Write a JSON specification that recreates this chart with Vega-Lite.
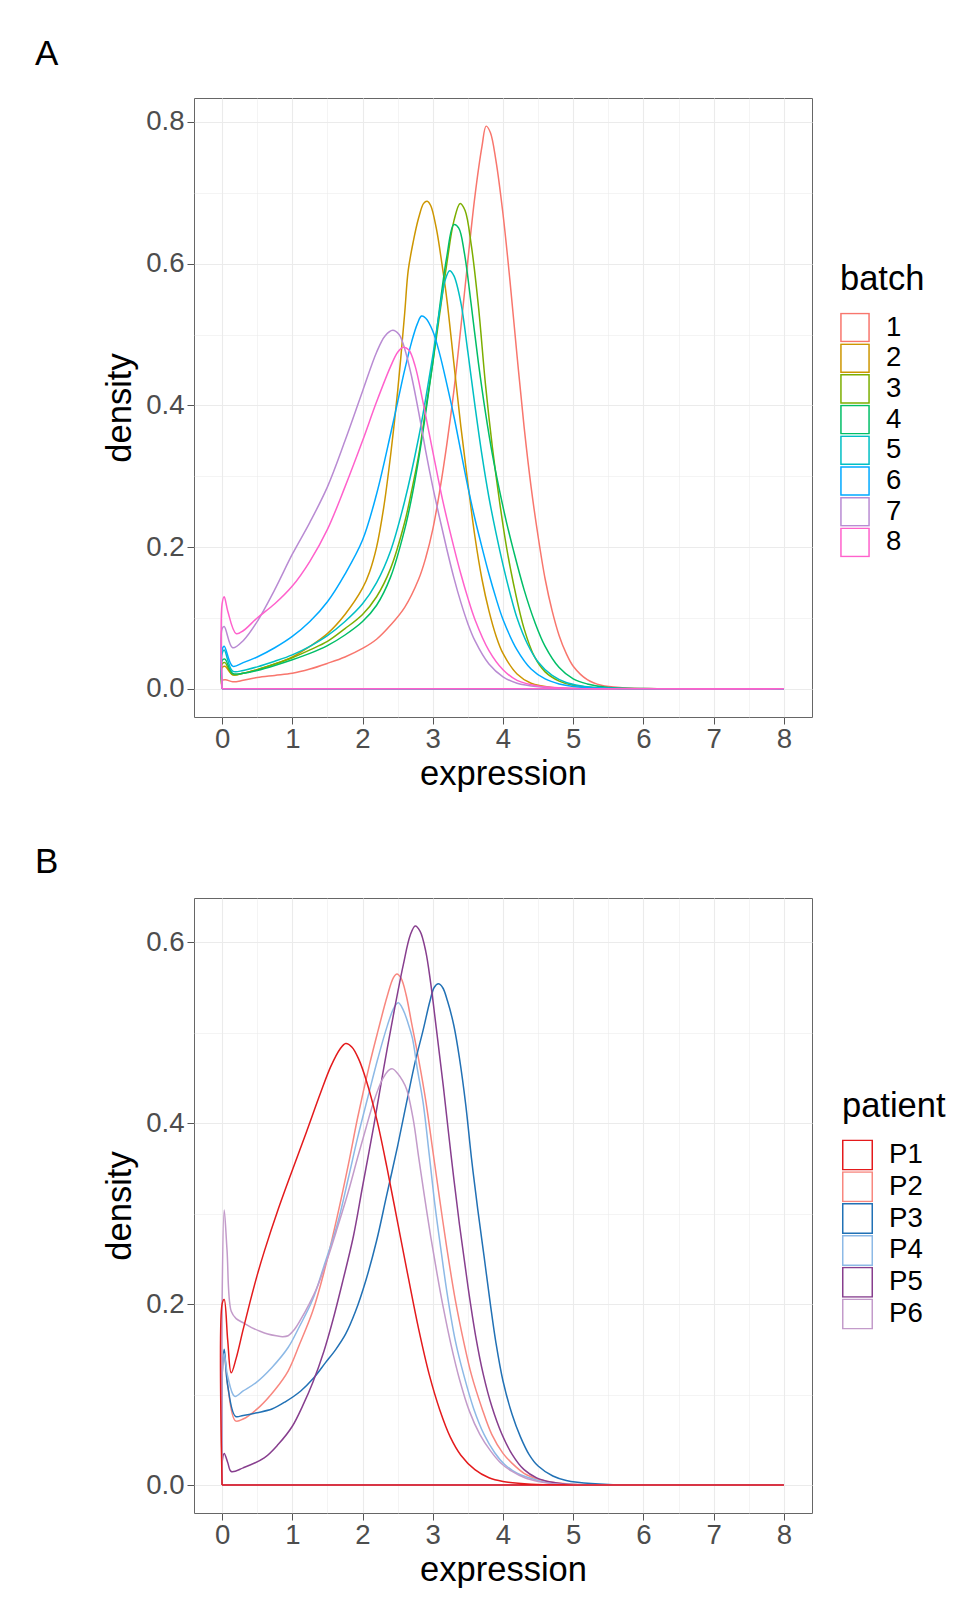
{
"$schema": "https://vega.github.io/schema/vega-lite/v6.json",
"background": "white",
"padding": {"left": 34, "top": 36, "right": 10, "bottom": 10},
"spacing": 52,
"datasets": {
"a": [
{"batch":"1","x":0,"y":0,"i":0},{"batch":"1","x":0,"y":0.012,"i":1},{"batch":"1","x":0.05,"y":0.013,"i":2},{"batch":"1","x":0.15,"y":0.01,"i":3},{"batch":"1","x":0.3,"y":0.012,"i":4},{"batch":"1","x":0.5,"y":0.016,"i":5},{"batch":"1","x":0.75,"y":0.019,"i":6},{"batch":"1","x":1.0,"y":0.022,"i":7},{"batch":"1","x":1.25,"y":0.028,"i":8},{"batch":"1","x":1.5,"y":0.036,"i":9},{"batch":"1","x":1.75,"y":0.045,"i":10},{"batch":"1","x":2.0,"y":0.057,"i":11},{"batch":"1","x":2.2,"y":0.07,"i":12},{"batch":"1","x":2.4,"y":0.09,"i":13},{"batch":"1","x":2.6,"y":0.115,"i":14},{"batch":"1","x":2.8,"y":0.155,"i":15},{"batch":"1","x":2.9,"y":0.185,"i":16},{"batch":"1","x":3.0,"y":0.225,"i":17},{"batch":"1","x":3.1,"y":0.28,"i":18},{"batch":"1","x":3.2,"y":0.345,"i":19},{"batch":"1","x":3.3,"y":0.42,"i":20},{"batch":"1","x":3.4,"y":0.51,"i":21},{"batch":"1","x":3.5,"y":0.605,"i":22},{"batch":"1","x":3.6,"y":0.695,"i":23},{"batch":"1","x":3.7,"y":0.765,"i":24},{"batch":"1","x":3.76,"y":0.794,"i":25},{"batch":"1","x":3.82,"y":0.785,"i":26},{"batch":"1","x":3.9,"y":0.745,"i":27},{"batch":"1","x":4.0,"y":0.67,"i":28},{"batch":"1","x":4.1,"y":0.575,"i":29},{"batch":"1","x":4.2,"y":0.47,"i":30},{"batch":"1","x":4.3,"y":0.37,"i":31},{"batch":"1","x":4.4,"y":0.285,"i":32},{"batch":"1","x":4.5,"y":0.215,"i":33},{"batch":"1","x":4.6,"y":0.155,"i":34},{"batch":"1","x":4.7,"y":0.11,"i":35},{"batch":"1","x":4.8,"y":0.075,"i":36},{"batch":"1","x":4.9,"y":0.05,"i":37},{"batch":"1","x":5.0,"y":0.032,"i":38},{"batch":"1","x":5.2,"y":0.013,"i":39},{"batch":"1","x":5.4,"y":0.005,"i":40},{"batch":"1","x":5.7,"y":0.0015,"i":41},{"batch":"1","x":6.2,"y":0.0003,"i":42},{"batch":"1","x":7,"y":0,"i":43},{"batch":"1","x":8,"y":0,"i":44},{"batch":"1","x":0,"y":0,"i":45},

{"batch":"2","x":0,"y":0,"i":0},{"batch":"2","x":0,"y":0.03,"i":1},{"batch":"2","x":0.04,"y":0.032,"i":2},{"batch":"2","x":0.15,"y":0.02,"i":3},{"batch":"2","x":0.3,"y":0.022,"i":4},{"batch":"2","x":0.5,"y":0.027,"i":5},{"batch":"2","x":0.75,"y":0.035,"i":6},{"batch":"2","x":1.0,"y":0.045,"i":7},{"batch":"2","x":1.25,"y":0.06,"i":8},{"batch":"2","x":1.5,"y":0.078,"i":9},{"batch":"2","x":1.75,"y":0.105,"i":10},{"batch":"2","x":2.0,"y":0.142,"i":11},{"batch":"2","x":2.1,"y":0.165,"i":12},{"batch":"2","x":2.2,"y":0.2,"i":13},{"batch":"2","x":2.3,"y":0.255,"i":14},{"batch":"2","x":2.4,"y":0.33,"i":15},{"batch":"2","x":2.5,"y":0.42,"i":16},{"batch":"2","x":2.6,"y":0.53,"i":17},{"batch":"2","x":2.65,"y":0.59,"i":18},{"batch":"2","x":2.72,"y":0.63,"i":19},{"batch":"2","x":2.8,"y":0.665,"i":20},{"batch":"2","x":2.87,"y":0.685,"i":21},{"batch":"2","x":2.92,"y":0.688,"i":22},{"batch":"2","x":2.97,"y":0.682,"i":23},{"batch":"2","x":3.05,"y":0.65,"i":24},{"batch":"2","x":3.13,"y":0.6,"i":25},{"batch":"2","x":3.2,"y":0.55,"i":26},{"batch":"2","x":3.3,"y":0.46,"i":27},{"batch":"2","x":3.4,"y":0.37,"i":28},{"batch":"2","x":3.5,"y":0.29,"i":29},{"batch":"2","x":3.6,"y":0.215,"i":30},{"batch":"2","x":3.7,"y":0.155,"i":31},{"batch":"2","x":3.8,"y":0.11,"i":32},{"batch":"2","x":3.9,"y":0.075,"i":33},{"batch":"2","x":4.0,"y":0.05,"i":34},{"batch":"2","x":4.2,"y":0.021,"i":35},{"batch":"2","x":4.4,"y":0.008,"i":36},{"batch":"2","x":4.7,"y":0.002,"i":37},{"batch":"2","x":5.2,"y":0.0003,"i":38},{"batch":"2","x":6,"y":0,"i":39},{"batch":"2","x":8,"y":0,"i":40},{"batch":"2","x":0,"y":0,"i":41},

{"batch":"3","x":0,"y":0,"i":0},{"batch":"3","x":0,"y":0.035,"i":1},{"batch":"3","x":0.04,"y":0.037,"i":2},{"batch":"3","x":0.15,"y":0.02,"i":3},{"batch":"3","x":0.3,"y":0.022,"i":4},{"batch":"3","x":0.5,"y":0.027,"i":5},{"batch":"3","x":0.75,"y":0.035,"i":6},{"batch":"3","x":1.0,"y":0.044,"i":7},{"batch":"3","x":1.25,"y":0.055,"i":8},{"batch":"3","x":1.5,"y":0.067,"i":9},{"batch":"3","x":1.75,"y":0.085,"i":10},{"batch":"3","x":2.0,"y":0.105,"i":11},{"batch":"3","x":2.2,"y":0.13,"i":12},{"batch":"3","x":2.4,"y":0.17,"i":13},{"batch":"3","x":2.6,"y":0.235,"i":14},{"batch":"3","x":2.7,"y":0.28,"i":15},{"batch":"3","x":2.8,"y":0.33,"i":16},{"batch":"3","x":2.9,"y":0.395,"i":17},{"batch":"3","x":3.0,"y":0.46,"i":18},{"batch":"3","x":3.1,"y":0.53,"i":19},{"batch":"3","x":3.2,"y":0.6,"i":20},{"batch":"3","x":3.3,"y":0.66,"i":21},{"batch":"3","x":3.39,"y":0.685,"i":22},{"batch":"3","x":3.46,"y":0.675,"i":23},{"batch":"3","x":3.55,"y":0.625,"i":24},{"batch":"3","x":3.65,"y":0.54,"i":25},{"batch":"3","x":3.75,"y":0.43,"i":26},{"batch":"3","x":3.85,"y":0.34,"i":27},{"batch":"3","x":3.95,"y":0.265,"i":28},{"batch":"3","x":4.05,"y":0.2,"i":29},{"batch":"3","x":4.15,"y":0.148,"i":30},{"batch":"3","x":4.3,"y":0.085,"i":31},{"batch":"3","x":4.45,"y":0.045,"i":32},{"batch":"3","x":4.6,"y":0.024,"i":33},{"batch":"3","x":4.8,"y":0.011,"i":34},{"batch":"3","x":5.0,"y":0.005,"i":35},{"batch":"3","x":5.4,"y":0.001,"i":36},{"batch":"3","x":6,"y":0,"i":37},{"batch":"3","x":8,"y":0,"i":38},{"batch":"3","x":0,"y":0,"i":39},

{"batch":"4","x":0,"y":0,"i":0},{"batch":"4","x":0,"y":0.04,"i":1},{"batch":"4","x":0.04,"y":0.042,"i":2},{"batch":"4","x":0.15,"y":0.022,"i":3},{"batch":"4","x":0.3,"y":0.022,"i":4},{"batch":"4","x":0.5,"y":0.026,"i":5},{"batch":"4","x":0.75,"y":0.033,"i":6},{"batch":"4","x":1.0,"y":0.041,"i":7},{"batch":"4","x":1.25,"y":0.05,"i":8},{"batch":"4","x":1.5,"y":0.061,"i":9},{"batch":"4","x":1.75,"y":0.076,"i":10},{"batch":"4","x":2.0,"y":0.095,"i":11},{"batch":"4","x":2.2,"y":0.118,"i":12},{"batch":"4","x":2.4,"y":0.158,"i":13},{"batch":"4","x":2.6,"y":0.225,"i":14},{"batch":"4","x":2.7,"y":0.27,"i":15},{"batch":"4","x":2.8,"y":0.325,"i":16},{"batch":"4","x":2.9,"y":0.39,"i":17},{"batch":"4","x":3.0,"y":0.46,"i":18},{"batch":"4","x":3.1,"y":0.54,"i":19},{"batch":"4","x":3.2,"y":0.61,"i":20},{"batch":"4","x":3.3,"y":0.655,"i":21},{"batch":"4","x":3.37,"y":0.65,"i":22},{"batch":"4","x":3.45,"y":0.615,"i":23},{"batch":"4","x":3.55,"y":0.54,"i":24},{"batch":"4","x":3.65,"y":0.46,"i":25},{"batch":"4","x":3.75,"y":0.39,"i":26},{"batch":"4","x":3.85,"y":0.33,"i":27},{"batch":"4","x":3.95,"y":0.28,"i":28},{"batch":"4","x":4.05,"y":0.235,"i":29},{"batch":"4","x":4.15,"y":0.195,"i":30},{"batch":"4","x":4.3,"y":0.14,"i":31},{"batch":"4","x":4.45,"y":0.095,"i":32},{"batch":"4","x":4.6,"y":0.06,"i":33},{"batch":"4","x":4.8,"y":0.03,"i":34},{"batch":"4","x":5.0,"y":0.014,"i":35},{"batch":"4","x":5.2,"y":0.007,"i":36},{"batch":"4","x":5.5,"y":0.002,"i":37},{"batch":"4","x":6,"y":0.0004,"i":38},{"batch":"4","x":7,"y":0,"i":39},{"batch":"4","x":8,"y":0,"i":40},{"batch":"4","x":0,"y":0,"i":41},

{"batch":"5","x":0,"y":0,"i":0},{"batch":"5","x":0,"y":0.05,"i":1},{"batch":"5","x":0.03,"y":0.055,"i":2},{"batch":"5","x":0.15,"y":0.025,"i":3},{"batch":"5","x":0.3,"y":0.026,"i":4},{"batch":"5","x":0.5,"y":0.031,"i":5},{"batch":"5","x":0.75,"y":0.039,"i":6},{"batch":"5","x":1.0,"y":0.048,"i":7},{"batch":"5","x":1.25,"y":0.06,"i":8},{"batch":"5","x":1.5,"y":0.075,"i":9},{"batch":"5","x":1.75,"y":0.095,"i":10},{"batch":"5","x":2.0,"y":0.12,"i":11},{"batch":"5","x":2.2,"y":0.15,"i":12},{"batch":"5","x":2.4,"y":0.195,"i":13},{"batch":"5","x":2.6,"y":0.265,"i":14},{"batch":"5","x":2.8,"y":0.355,"i":15},{"batch":"5","x":2.9,"y":0.41,"i":16},{"batch":"5","x":3.0,"y":0.47,"i":17},{"batch":"5","x":3.1,"y":0.535,"i":18},{"batch":"5","x":3.18,"y":0.578,"i":19},{"batch":"5","x":3.24,"y":0.59,"i":20},{"batch":"5","x":3.3,"y":0.583,"i":21},{"batch":"5","x":3.4,"y":0.545,"i":22},{"batch":"5","x":3.5,"y":0.475,"i":23},{"batch":"5","x":3.6,"y":0.4,"i":24},{"batch":"5","x":3.7,"y":0.33,"i":25},{"batch":"5","x":3.8,"y":0.27,"i":26},{"batch":"5","x":3.9,"y":0.22,"i":27},{"batch":"5","x":4.0,"y":0.175,"i":28},{"batch":"5","x":4.1,"y":0.135,"i":29},{"batch":"5","x":4.2,"y":0.1,"i":30},{"batch":"5","x":4.35,"y":0.063,"i":31},{"batch":"5","x":4.5,"y":0.038,"i":32},{"batch":"5","x":4.7,"y":0.019,"i":33},{"batch":"5","x":4.9,"y":0.009,"i":34},{"batch":"5","x":5.1,"y":0.0045,"i":35},{"batch":"5","x":5.4,"y":0.0015,"i":36},{"batch":"5","x":6,"y":0.0002,"i":37},{"batch":"5","x":7,"y":0,"i":38},{"batch":"5","x":8,"y":0,"i":39},{"batch":"5","x":0,"y":0,"i":40},

{"batch":"6","x":0,"y":0,"i":0},{"batch":"6","x":0,"y":0.055,"i":1},{"batch":"6","x":0.03,"y":0.06,"i":2},{"batch":"6","x":0.15,"y":0.032,"i":3},{"batch":"6","x":0.3,"y":0.037,"i":4},{"batch":"6","x":0.5,"y":0.045,"i":5},{"batch":"6","x":0.75,"y":0.058,"i":6},{"batch":"6","x":1.0,"y":0.074,"i":7},{"batch":"6","x":1.25,"y":0.095,"i":8},{"batch":"6","x":1.5,"y":0.123,"i":9},{"batch":"6","x":1.75,"y":0.162,"i":10},{"batch":"6","x":2.0,"y":0.21,"i":11},{"batch":"6","x":2.2,"y":0.275,"i":12},{"batch":"6","x":2.4,"y":0.36,"i":13},{"batch":"6","x":2.5,"y":0.405,"i":14},{"batch":"6","x":2.6,"y":0.45,"i":15},{"batch":"6","x":2.7,"y":0.49,"i":16},{"batch":"6","x":2.78,"y":0.515,"i":17},{"batch":"6","x":2.84,"y":0.526,"i":18},{"batch":"6","x":2.9,"y":0.523,"i":19},{"batch":"6","x":3.0,"y":0.505,"i":20},{"batch":"6","x":3.1,"y":0.472,"i":21},{"batch":"6","x":3.2,"y":0.43,"i":22},{"batch":"6","x":3.3,"y":0.385,"i":23},{"batch":"6","x":3.4,"y":0.335,"i":24},{"batch":"6","x":3.5,"y":0.285,"i":25},{"batch":"6","x":3.6,"y":0.24,"i":26},{"batch":"6","x":3.7,"y":0.2,"i":27},{"batch":"6","x":3.8,"y":0.162,"i":28},{"batch":"6","x":3.9,"y":0.128,"i":29},{"batch":"6","x":4.0,"y":0.098,"i":30},{"batch":"6","x":4.2,"y":0.055,"i":31},{"batch":"6","x":4.4,"y":0.028,"i":32},{"batch":"6","x":4.6,"y":0.014,"i":33},{"batch":"6","x":4.8,"y":0.007,"i":34},{"batch":"6","x":5.0,"y":0.0035,"i":35},{"batch":"6","x":5.4,"y":0.001,"i":36},{"batch":"6","x":6,"y":0.0002,"i":37},{"batch":"6","x":7,"y":0,"i":38},{"batch":"6","x":8,"y":0,"i":39},{"batch":"6","x":0,"y":0,"i":40},

{"batch":"7","x":0,"y":0,"i":0},{"batch":"7","x":0,"y":0.085,"i":1},{"batch":"7","x":0.03,"y":0.088,"i":2},{"batch":"7","x":0.15,"y":0.058,"i":3},{"batch":"7","x":0.3,"y":0.068,"i":4},{"batch":"7","x":0.5,"y":0.095,"i":5},{"batch":"7","x":0.75,"y":0.14,"i":6},{"batch":"7","x":1.0,"y":0.19,"i":7},{"batch":"7","x":1.25,"y":0.235,"i":8},{"batch":"7","x":1.5,"y":0.285,"i":9},{"batch":"7","x":1.75,"y":0.35,"i":10},{"batch":"7","x":2.0,"y":0.42,"i":11},{"batch":"7","x":2.2,"y":0.475,"i":12},{"batch":"7","x":2.32,"y":0.498,"i":13},{"batch":"7","x":2.43,"y":0.506,"i":14},{"batch":"7","x":2.52,"y":0.5,"i":15},{"batch":"7","x":2.6,"y":0.48,"i":16},{"batch":"7","x":2.7,"y":0.44,"i":17},{"batch":"7","x":2.8,"y":0.39,"i":18},{"batch":"7","x":2.9,"y":0.335,"i":19},{"batch":"7","x":3.0,"y":0.285,"i":20},{"batch":"7","x":3.1,"y":0.24,"i":21},{"batch":"7","x":3.2,"y":0.197,"i":22},{"batch":"7","x":3.3,"y":0.157,"i":23},{"batch":"7","x":3.4,"y":0.122,"i":24},{"batch":"7","x":3.5,"y":0.092,"i":25},{"batch":"7","x":3.6,"y":0.068,"i":26},{"batch":"7","x":3.8,"y":0.035,"i":27},{"batch":"7","x":4.0,"y":0.017,"i":28},{"batch":"7","x":4.2,"y":0.008,"i":29},{"batch":"7","x":4.5,"y":0.003,"i":30},{"batch":"7","x":5,"y":0.0005,"i":31},{"batch":"7","x":6,"y":0,"i":32},{"batch":"7","x":8,"y":0,"i":33},{"batch":"7","x":0,"y":0,"i":34},

{"batch":"8","x":0,"y":0,"i":0},{"batch":"8","x":0,"y":0.12,"i":1},{"batch":"8","x":0.03,"y":0.13,"i":2},{"batch":"8","x":0.08,"y":0.11,"i":3},{"batch":"8","x":0.2,"y":0.078,"i":4},{"batch":"8","x":0.3,"y":0.082,"i":5},{"batch":"8","x":0.5,"y":0.1,"i":6},{"batch":"8","x":0.75,"y":0.12,"i":7},{"batch":"8","x":1.0,"y":0.145,"i":8},{"batch":"8","x":1.25,"y":0.18,"i":9},{"batch":"8","x":1.5,"y":0.225,"i":10},{"batch":"8","x":1.75,"y":0.285,"i":11},{"batch":"8","x":2.0,"y":0.35,"i":12},{"batch":"8","x":2.2,"y":0.405,"i":13},{"batch":"8","x":2.4,"y":0.455,"i":14},{"batch":"8","x":2.5,"y":0.475,"i":15},{"batch":"8","x":2.58,"y":0.482,"i":16},{"batch":"8","x":2.66,"y":0.478,"i":17},{"batch":"8","x":2.75,"y":0.455,"i":18},{"batch":"8","x":2.85,"y":0.41,"i":19},{"batch":"8","x":2.95,"y":0.36,"i":20},{"batch":"8","x":3.05,"y":0.31,"i":21},{"batch":"8","x":3.15,"y":0.262,"i":22},{"batch":"8","x":3.3,"y":0.2,"i":23},{"batch":"8","x":3.4,"y":0.162,"i":24},{"batch":"8","x":3.5,"y":0.128,"i":25},{"batch":"8","x":3.6,"y":0.098,"i":26},{"batch":"8","x":3.8,"y":0.054,"i":27},{"batch":"8","x":4.0,"y":0.027,"i":28},{"batch":"8","x":4.2,"y":0.012,"i":29},{"batch":"8","x":4.5,"y":0.004,"i":30},{"batch":"8","x":5,"y":0.0006,"i":31},{"batch":"8","x":6,"y":0,"i":32},{"batch":"8","x":8,"y":0,"i":33},{"batch":"8","x":0,"y":0,"i":34}
],
"b": [
{"patient":"P2","x":0,"y":0,"i":0},{"patient":"P2","x":0,"y":0.12,"i":1},{"patient":"P2","x":0.03,"y":0.145,"i":2},{"patient":"P2","x":0.08,"y":0.11,"i":3},{"patient":"P2","x":0.19,"y":0.071,"i":4},{"patient":"P2","x":0.3,"y":0.073,"i":5},{"patient":"P2","x":0.54,"y":0.087,"i":6},{"patient":"P2","x":0.75,"y":0.105,"i":7},{"patient":"P2","x":0.94,"y":0.126,"i":8},{"patient":"P2","x":1.1,"y":0.155,"i":9},{"patient":"P2","x":1.29,"y":0.192,"i":10},{"patient":"P2","x":1.45,"y":0.235,"i":11},{"patient":"P2","x":1.64,"y":0.297,"i":12},{"patient":"P2","x":1.8,"y":0.355,"i":13},{"patient":"P2","x":1.93,"y":0.406,"i":14},{"patient":"P2","x":2.1,"y":0.465,"i":15},{"patient":"P2","x":2.22,"y":0.502,"i":16},{"patient":"P2","x":2.35,"y":0.54,"i":17},{"patient":"P2","x":2.44,"y":0.561,"i":18},{"patient":"P2","x":2.49,"y":0.565,"i":19},{"patient":"P2","x":2.55,"y":0.56,"i":20},{"patient":"P2","x":2.62,"y":0.542,"i":21},{"patient":"P2","x":2.7,"y":0.51,"i":22},{"patient":"P2","x":2.8,"y":0.47,"i":23},{"patient":"P2","x":2.9,"y":0.425,"i":24},{"patient":"P2","x":3.0,"y":0.37,"i":25},{"patient":"P2","x":3.1,"y":0.315,"i":26},{"patient":"P2","x":3.2,"y":0.262,"i":27},{"patient":"P2","x":3.32,"y":0.205,"i":28},{"patient":"P2","x":3.45,"y":0.155,"i":29},{"patient":"P2","x":3.55,"y":0.122,"i":30},{"patient":"P2","x":3.7,"y":0.085,"i":31},{"patient":"P2","x":3.84,"y":0.056,"i":32},{"patient":"P2","x":4.0,"y":0.035,"i":33},{"patient":"P2","x":4.13,"y":0.024,"i":34},{"patient":"P2","x":4.3,"y":0.013,"i":35},{"patient":"P2","x":4.48,"y":0.007,"i":36},{"patient":"P2","x":4.7,"y":0.003,"i":37},{"patient":"P2","x":5,"y":0.001,"i":38},{"patient":"P2","x":5.5,"y":0.0002,"i":39},{"patient":"P2","x":6,"y":0,"i":40},{"patient":"P2","x":8,"y":0,"i":41},{"patient":"P2","x":0,"y":0,"i":42},

{"patient":"P3","x":0,"y":0,"i":0},{"patient":"P3","x":0,"y":0.12,"i":1},{"patient":"P3","x":0.03,"y":0.15,"i":2},{"patient":"P3","x":0.08,"y":0.11,"i":3},{"patient":"P3","x":0.19,"y":0.076,"i":4},{"patient":"P3","x":0.3,"y":0.077,"i":5},{"patient":"P3","x":0.5,"y":0.08,"i":6},{"patient":"P3","x":0.71,"y":0.084,"i":7},{"patient":"P3","x":0.9,"y":0.092,"i":8},{"patient":"P3","x":1.12,"y":0.104,"i":9},{"patient":"P3","x":1.3,"y":0.118,"i":10},{"patient":"P3","x":1.47,"y":0.135,"i":11},{"patient":"P3","x":1.62,"y":0.15,"i":12},{"patient":"P3","x":1.76,"y":0.167,"i":13},{"patient":"P3","x":1.9,"y":0.192,"i":14},{"patient":"P3","x":2.05,"y":0.227,"i":15},{"patient":"P3","x":2.2,"y":0.27,"i":16},{"patient":"P3","x":2.34,"y":0.319,"i":17},{"patient":"P3","x":2.5,"y":0.375,"i":18},{"patient":"P3","x":2.63,"y":0.424,"i":19},{"patient":"P3","x":2.75,"y":0.468,"i":20},{"patient":"P3","x":2.86,"y":0.502,"i":21},{"patient":"P3","x":2.96,"y":0.535,"i":22},{"patient":"P3","x":3.02,"y":0.55,"i":23},{"patient":"P3","x":3.08,"y":0.554,"i":24},{"patient":"P3","x":3.14,"y":0.55,"i":25},{"patient":"P3","x":3.21,"y":0.535,"i":26},{"patient":"P3","x":3.3,"y":0.508,"i":27},{"patient":"P3","x":3.38,"y":0.472,"i":28},{"patient":"P3","x":3.47,"y":0.42,"i":29},{"patient":"P3","x":3.55,"y":0.362,"i":30},{"patient":"P3","x":3.64,"y":0.305,"i":31},{"patient":"P3","x":3.73,"y":0.253,"i":32},{"patient":"P3","x":3.82,"y":0.2,"i":33},{"patient":"P3","x":3.9,"y":0.157,"i":34},{"patient":"P3","x":4.0,"y":0.115,"i":35},{"patient":"P3","x":4.13,"y":0.078,"i":36},{"patient":"P3","x":4.25,"y":0.053,"i":37},{"patient":"P3","x":4.37,"y":0.034,"i":38},{"patient":"P3","x":4.5,"y":0.021,"i":39},{"patient":"P3","x":4.71,"y":0.01,"i":40},{"patient":"P3","x":4.9,"y":0.005,"i":41},{"patient":"P3","x":5.06,"y":0.003,"i":42},{"patient":"P3","x":5.5,"y":0.0006,"i":43},{"patient":"P3","x":6,"y":0.0001,"i":44},{"patient":"P3","x":7,"y":0,"i":45},{"patient":"P3","x":8,"y":0,"i":46},{"patient":"P3","x":0,"y":0,"i":47},

{"patient":"P4","x":0,"y":0,"i":0},{"patient":"P4","x":0,"y":0.12,"i":1},{"patient":"P4","x":0.03,"y":0.145,"i":2},{"patient":"P4","x":0.08,"y":0.12,"i":3},{"patient":"P4","x":0.18,"y":0.098,"i":4},{"patient":"P4","x":0.3,"y":0.104,"i":5},{"patient":"P4","x":0.48,"y":0.113,"i":6},{"patient":"P4","x":0.71,"y":0.13,"i":7},{"patient":"P4","x":0.94,"y":0.152,"i":8},{"patient":"P4","x":1.1,"y":0.175,"i":9},{"patient":"P4","x":1.29,"y":0.205,"i":10},{"patient":"P4","x":1.45,"y":0.242,"i":11},{"patient":"P4","x":1.64,"y":0.288,"i":12},{"patient":"P4","x":1.8,"y":0.34,"i":13},{"patient":"P4","x":1.93,"y":0.384,"i":14},{"patient":"P4","x":2.08,"y":0.43,"i":15},{"patient":"P4","x":2.22,"y":0.472,"i":16},{"patient":"P4","x":2.35,"y":0.507,"i":17},{"patient":"P4","x":2.45,"y":0.528,"i":18},{"patient":"P4","x":2.51,"y":0.533,"i":19},{"patient":"P4","x":2.58,"y":0.525,"i":20},{"patient":"P4","x":2.65,"y":0.51,"i":21},{"patient":"P4","x":2.71,"y":0.494,"i":22},{"patient":"P4","x":2.78,"y":0.46,"i":23},{"patient":"P4","x":2.86,"y":0.424,"i":24},{"patient":"P4","x":2.95,"y":0.365,"i":25},{"patient":"P4","x":3.03,"y":0.31,"i":26},{"patient":"P4","x":3.12,"y":0.258,"i":27},{"patient":"P4","x":3.21,"y":0.209,"i":28},{"patient":"P4","x":3.32,"y":0.16,"i":29},{"patient":"P4","x":3.44,"y":0.122,"i":30},{"patient":"P4","x":3.58,"y":0.085,"i":31},{"patient":"P4","x":3.73,"y":0.056,"i":32},{"patient":"P4","x":3.88,"y":0.036,"i":33},{"patient":"P4","x":4.02,"y":0.023,"i":34},{"patient":"P4","x":4.2,"y":0.013,"i":35},{"patient":"P4","x":4.37,"y":0.008,"i":36},{"patient":"P4","x":4.55,"y":0.004,"i":37},{"patient":"P4","x":4.77,"y":0.0015,"i":38},{"patient":"P4","x":5.2,"y":0.0003,"i":39},{"patient":"P4","x":6,"y":0,"i":40},{"patient":"P4","x":8,"y":0,"i":41},{"patient":"P4","x":0,"y":0,"i":42},

{"patient":"P5","x":0,"y":0,"i":0},{"patient":"P5","x":0,"y":0.025,"i":1},{"patient":"P5","x":0.03,"y":0.035,"i":2},{"patient":"P5","x":0.08,"y":0.025,"i":3},{"patient":"P5","x":0.13,"y":0.015,"i":4},{"patient":"P5","x":0.3,"y":0.019,"i":5},{"patient":"P5","x":0.6,"y":0.03,"i":6},{"patient":"P5","x":0.8,"y":0.045,"i":7},{"patient":"P5","x":1.0,"y":0.065,"i":8},{"patient":"P5","x":1.15,"y":0.088,"i":9},{"patient":"P5","x":1.29,"y":0.113,"i":10},{"patient":"P5","x":1.45,"y":0.148,"i":11},{"patient":"P5","x":1.58,"y":0.183,"i":12},{"patient":"P5","x":1.72,"y":0.226,"i":13},{"patient":"P5","x":1.87,"y":0.275,"i":14},{"patient":"P5","x":2.0,"y":0.33,"i":15},{"patient":"P5","x":2.16,"y":0.397,"i":16},{"patient":"P5","x":2.3,"y":0.46,"i":17},{"patient":"P5","x":2.45,"y":0.524,"i":18},{"patient":"P5","x":2.58,"y":0.575,"i":19},{"patient":"P5","x":2.68,"y":0.608,"i":20},{"patient":"P5","x":2.75,"y":0.618,"i":21},{"patient":"P5","x":2.82,"y":0.612,"i":22},{"patient":"P5","x":2.9,"y":0.59,"i":23},{"patient":"P5","x":2.97,"y":0.555,"i":24},{"patient":"P5","x":3.05,"y":0.505,"i":25},{"patient":"P5","x":3.15,"y":0.441,"i":26},{"patient":"P5","x":3.26,"y":0.365,"i":27},{"patient":"P5","x":3.38,"y":0.288,"i":28},{"patient":"P5","x":3.5,"y":0.22,"i":29},{"patient":"P5","x":3.61,"y":0.165,"i":30},{"patient":"P5","x":3.72,"y":0.122,"i":31},{"patient":"P5","x":3.84,"y":0.087,"i":32},{"patient":"P5","x":3.98,"y":0.057,"i":33},{"patient":"P5","x":4.13,"y":0.034,"i":34},{"patient":"P5","x":4.3,"y":0.017,"i":35},{"patient":"P5","x":4.48,"y":0.008,"i":36},{"patient":"P5","x":4.7,"y":0.003,"i":37},{"patient":"P5","x":4.9,"y":0.001,"i":38},{"patient":"P5","x":5.5,"y":0.0002,"i":39},{"patient":"P5","x":6,"y":0,"i":40},{"patient":"P5","x":8,"y":0,"i":41},{"patient":"P5","x":0,"y":0,"i":42},

{"patient":"P6","x":0,"y":0,"i":0},{"patient":"P6","x":0,"y":0.2,"i":1},{"patient":"P6","x":0.03,"y":0.304,"i":2},{"patient":"P6","x":0.07,"y":0.26,"i":3},{"patient":"P6","x":0.13,"y":0.192,"i":4},{"patient":"P6","x":0.2,"y":0.184,"i":5},{"patient":"P6","x":0.31,"y":0.179,"i":6},{"patient":"P6","x":0.42,"y":0.174,"i":7},{"patient":"P6","x":0.54,"y":0.17,"i":8},{"patient":"P6","x":0.65,"y":0.167,"i":9},{"patient":"P6","x":0.77,"y":0.165,"i":10},{"patient":"P6","x":0.86,"y":0.164,"i":11},{"patient":"P6","x":0.94,"y":0.165,"i":12},{"patient":"P6","x":1.03,"y":0.172,"i":13},{"patient":"P6","x":1.12,"y":0.183,"i":14},{"patient":"P6","x":1.24,"y":0.2,"i":15},{"patient":"P6","x":1.35,"y":0.218,"i":16},{"patient":"P6","x":1.5,"y":0.25,"i":17},{"patient":"P6","x":1.64,"y":0.284,"i":18},{"patient":"P6","x":1.8,"y":0.325,"i":19},{"patient":"P6","x":1.93,"y":0.362,"i":20},{"patient":"P6","x":2.05,"y":0.395,"i":21},{"patient":"P6","x":2.16,"y":0.424,"i":22},{"patient":"P6","x":2.28,"y":0.448,"i":23},{"patient":"P6","x":2.38,"y":0.459,"i":24},{"patient":"P6","x":2.43,"y":0.46,"i":25},{"patient":"P6","x":2.5,"y":0.455,"i":26},{"patient":"P6","x":2.57,"y":0.447,"i":27},{"patient":"P6","x":2.63,"y":0.437,"i":28},{"patient":"P6","x":2.72,"y":0.405,"i":29},{"patient":"P6","x":2.8,"y":0.362,"i":30},{"patient":"P6","x":2.88,"y":0.32,"i":31},{"patient":"P6","x":2.97,"y":0.275,"i":32},{"patient":"P6","x":3.06,"y":0.234,"i":33},{"patient":"P6","x":3.15,"y":0.196,"i":34},{"patient":"P6","x":3.26,"y":0.155,"i":35},{"patient":"P6","x":3.38,"y":0.117,"i":36},{"patient":"P6","x":3.52,"y":0.082,"i":37},{"patient":"P6","x":3.67,"y":0.056,"i":38},{"patient":"P6","x":3.82,"y":0.038,"i":39},{"patient":"P6","x":3.96,"y":0.025,"i":40},{"patient":"P6","x":4.13,"y":0.015,"i":41},{"patient":"P6","x":4.31,"y":0.008,"i":42},{"patient":"P6","x":4.5,"y":0.004,"i":43},{"patient":"P6","x":4.71,"y":0.0015,"i":44},{"patient":"P6","x":5.2,"y":0.0002,"i":45},{"patient":"P6","x":6,"y":0,"i":46},{"patient":"P6","x":8,"y":0,"i":47},{"patient":"P6","x":0,"y":0,"i":48},

{"patient":"P1","x":0,"y":0,"i":0},{"patient":"P1","x":0,"y":0.2,"i":1},{"patient":"P1","x":0.03,"y":0.205,"i":2},{"patient":"P1","x":0.08,"y":0.16,"i":3},{"patient":"P1","x":0.13,"y":0.124,"i":4},{"patient":"P1","x":0.2,"y":0.14,"i":5},{"patient":"P1","x":0.3,"y":0.172,"i":6},{"patient":"P1","x":0.4,"y":0.203,"i":7},{"patient":"P1","x":0.5,"y":0.232,"i":8},{"patient":"P1","x":0.6,"y":0.258,"i":9},{"patient":"P1","x":0.8,"y":0.305,"i":10},{"patient":"P1","x":1.0,"y":0.348,"i":11},{"patient":"P1","x":1.2,"y":0.39,"i":12},{"patient":"P1","x":1.4,"y":0.433,"i":13},{"patient":"P1","x":1.55,"y":0.463,"i":14},{"patient":"P1","x":1.68,"y":0.482,"i":15},{"patient":"P1","x":1.76,"y":0.488,"i":16},{"patient":"P1","x":1.85,"y":0.484,"i":17},{"patient":"P1","x":1.95,"y":0.47,"i":18},{"patient":"P1","x":2.05,"y":0.448,"i":19},{"patient":"P1","x":2.2,"y":0.405,"i":20},{"patient":"P1","x":2.35,"y":0.35,"i":21},{"patient":"P1","x":2.5,"y":0.29,"i":22},{"patient":"P1","x":2.65,"y":0.23,"i":23},{"patient":"P1","x":2.8,"y":0.172,"i":24},{"patient":"P1","x":2.95,"y":0.122,"i":25},{"patient":"P1","x":3.1,"y":0.083,"i":26},{"patient":"P1","x":3.25,"y":0.053,"i":27},{"patient":"P1","x":3.4,"y":0.033,"i":28},{"patient":"P1","x":3.6,"y":0.017,"i":29},{"patient":"P1","x":3.8,"y":0.008,"i":30},{"patient":"P1","x":4.0,"y":0.004,"i":31},{"patient":"P1","x":4.4,"y":0.001,"i":32},{"patient":"P1","x":5,"y":0.0001,"i":33},{"patient":"P1","x":6,"y":0,"i":34},{"patient":"P1","x":8,"y":0,"i":35},{"patient":"P1","x":0,"y":0,"i":36}
]
},
"vconcat": [
{
"width": 618, "height": 619,
"title": {"text": "A", "anchor": "start", "frame": "group", "dx": -159, "offset": -2, "baseline": "alphabetic", "fontSize": 35, "fontWeight": "normal", "font": "Liberation Sans", "color": "black"},
"data": {"name": "a"},
"mark": {"type": "line", "strokeWidth": 1.5, "interpolate": "catmull-rom"},
"encoding": {
"x": {"field": "x", "type": "quantitative", "title": "expression",
"scale": {"domain": [-0.4, 8.4], "nice": false, "zero": false},
"axis": {"values": [0,0.5,1,1.5,2,2.5,3,3.5,4,4.5,5,5.5,6,6.5,7,7.5,8], "labelExpr": "datum.value % 1 === 0 ? format(datum.value, 'd') : ''", "labelOverlap": false, "labelPadding": 1, "titlePadding": 5,
"tickOpacity": {"condition": {"test": "datum.value % 1 !== 0", "value": 0}, "value": 1},
"gridWidth": {"condition": {"test": "datum.value % 1 !== 0", "value": 0.55}, "value": 1.1}}},
"y": {"field": "y", "type": "quantitative", "title": "density",
"scale": {"domain": [-0.0397, 0.8337], "nice": false, "zero": false},
"axis": {"values": [0,0.1,0.2,0.3,0.4,0.5,0.6,0.7,0.8], "labelExpr": "round(datum.value*10) % 2 === 0 ? format(datum.value, '.1f') : ''", "labelOverlap": false, "labelPadding": 3, "titlePadding": 8,
"tickOpacity": {"condition": {"test": "round(datum.value*10) % 2 !== 0", "value": 0}, "value": 1},
"gridWidth": {"condition": {"test": "round(datum.value*10) % 2 !== 0", "value": 0.55}, "value": 1.1}}},
"color": {"field": "batch", "type": "nominal",
"scale": {"domain": ["1","2","3","4","5","6","7","8"], "range": ["#F8766D","#CD9600","#7CAE00","#00BE67","#00BFC4","#00A9FF","#B98BD3","#FF61CC"]},
"legend": {"title": "batch", "orient": "none", "legendX": 646, "legendY": 165, "symbolSize": 790, "clipHeight": 30, "rowPadding": 0.7, "titlePadding": 15}},
"order": {"field": "i", "type": "quantitative"}
}
},
{
"width": 618, "height": 615,
"title": {"text": "B", "anchor": "start", "frame": "group", "dx": -159, "offset": -10, "baseline": "alphabetic", "fontSize": 35, "fontWeight": "normal", "font": "Liberation Sans", "color": "black"},
"data": {"name": "b"},
"mark": {"type": "line", "strokeWidth": 1.5, "interpolate": "catmull-rom"},
"encoding": {
"x": {"field": "x", "type": "quantitative", "title": "expression",
"scale": {"domain": [-0.4, 8.4], "nice": false, "zero": false},
"axis": {"values": [0,0.5,1,1.5,2,2.5,3,3.5,4,4.5,5,5.5,6,6.5,7,7.5,8], "labelExpr": "datum.value % 1 === 0 ? format(datum.value, 'd') : ''", "labelOverlap": false, "labelPadding": 1, "titlePadding": 5,
"tickOpacity": {"condition": {"test": "datum.value % 1 !== 0", "value": 0}, "value": 1},
"gridWidth": {"condition": {"test": "datum.value % 1 !== 0", "value": 0.55}, "value": 1.1}}},
"y": {"field": "y", "type": "quantitative", "title": "density",
"scale": {"domain": [-0.0309, 0.6489], "nice": false, "zero": false},
"axis": {"values": [0,0.1,0.2,0.3,0.4,0.5,0.6], "labelExpr": "round(datum.value*10) % 2 === 0 ? format(datum.value, '.1f') : ''", "labelOverlap": false, "labelPadding": 3, "titlePadding": 8,
"tickOpacity": {"condition": {"test": "round(datum.value*10) % 2 !== 0", "value": 0}, "value": 1},
"gridWidth": {"condition": {"test": "round(datum.value*10) % 2 !== 0", "value": 0.55}, "value": 1.1}}},
"color": {"field": "patient", "type": "nominal",
"scale": {"domain": ["P1","P2","P3","P4","P5","P6"], "range": ["#E41A1C","#F8877F","#2171B5","#8DB9E6","#873E8E","#C39BCA"]},
"legend": {"title": "patient", "orient": "none", "legendX": 648, "legendY": 192, "symbolSize": 870, "clipHeight": 31, "rowPadding": 0.8, "titlePadding": 15}},
"order": {"field": "i", "type": "quantitative"}
}
}
],
"resolve": {"scale": {"color": "independent", "x": "independent", "y": "independent"}, "legend": {"color": "independent"}},
"config": {
"font": "Liberation Sans",
"view": {"stroke": "#666666", "strokeWidth": 1},
"axis": {"labelFont": "Liberation Sans", "titleFont": "Liberation Sans", "labelFontSize": 27.6, "titleFontSize": 34.5, "labelColor": "#4D4D4D", "titleColor": "black", "titleFontWeight": "normal", "domain": false, "tickColor": "#555555", "tickSize": 7, "tickWidth": 1, "gridColor": "#EBEBEB", "grid": true},
"legend": {"labelFont": "Liberation Sans", "titleFont": "Liberation Sans", "labelFontSize": 27.6, "titleFontSize": 34.5, "titleFontWeight": "normal", "titleColor": "black", "labelColor": "black", "symbolType": "square", "symbolStrokeWidth": 1.5, "symbolFillColor": "white", "labelOffset": 16, "padding": 0}
}
}
